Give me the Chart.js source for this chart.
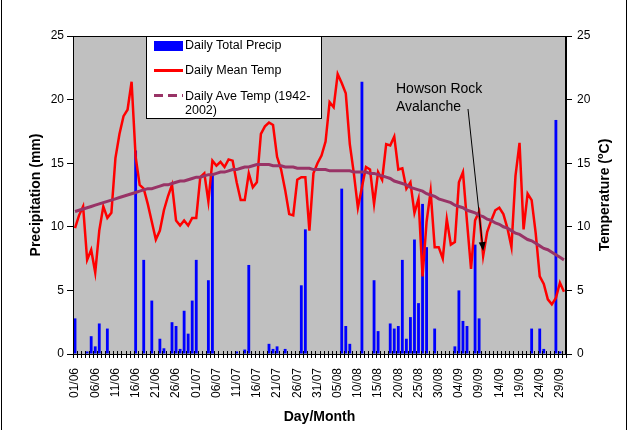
<!DOCTYPE html>
<html>
<head>
<meta charset="utf-8">
<script src="https://cdn.jsdelivr.net/npm/chart.js@4.4.0/dist/chart.umd.min.js"></script>
<style>
  body { margin: 0; background: #fff; }
  #wrap { position: relative; width: 628px; height: 430px; font-family: 'Liberation Sans', Arial, sans-serif; }
  #chart { position: absolute; left: 0; top: 0; }
  .edge { position: absolute; top: 0; width: 1px; height: 430px; background: #000; }
  #legend { position: absolute; left: 146px; top: 36px; width: 174px; height: 81px; background: #fff; border: 1px solid #000; }
  .row { position: absolute; left: 0; width: 174px; font-size: 12.5px; line-height: 14px; color: #000; }
  .row span.txt { position: absolute; left: 38px; width: 135px; }
  .sw { position: absolute; left: 7px; }
  #note { position: absolute; left: 396px; top: 79px; font-size: 14px; line-height: 18px; color: #000; }
</style>
</head>
<body>
<div id="wrap">
  <canvas id="chart" width="628" height="430"></canvas>
  <div class="edge" style="left:1px"></div>
  <div class="edge" style="left:626px"></div>
  <div id="legend"></div>
  <div id="note">Howson Rock<br>Avalanche</div>
</div>
<script>
// day/month categories 01/06 .. 30/09
var months = [["06", 30], ["07", 31], ["08", 31], ["09", 30]]
var days = []
months.forEach(function (m) {
  for (var d = 1; d <= m[1]; d++) days.push((d < 10 ? "0" + d : "" + d) + "/" + m[0])
})

var tickLabels = ["01/06", "06/06", "11/06", "16/06", "21/06", "26/06", "01/07", "06/07", "11/07",
  "16/07", "21/07", "26/07", "31/07", "05/08", "10/08", "15/08", "20/08", "25/08", "30/08",
  "04/09", "09/09", "14/09", "19/09", "24/09", "29/09"]

// daily total precipitation (mm)
var precip = [
  2.8, 0, 0, 0.2, 1.4, 0.6, 2.4, 0, 2.0, 0,
  0, 0, 0, 0, 0, 16.0, 0, 7.4, 0, 4.2,
  0, 1.2, 0.45, 0, 2.5, 2.2, 0.4, 3.4, 1.6, 4.2,
  7.4, 0, 0, 5.8, 14.2, 0, 0, 0, 0, 0,
  0.2, 0, 0.35, 7.0, 0, 0, 0, 0, 0.8, 0.4,
  0.6, 0, 0.4, 0, 0, 0, 5.4, 9.8, 0, 0,
  0, 0, 0, 0, 0, 0, 13.0, 2.2, 0.8, 0,
  0, 21.4, 0, 0, 5.8, 1.8, 0, 0, 2.4, 2.0,
  2.2, 7.4, 1.2, 2.9, 9.0, 4.0, 11.8, 8.4, 0, 2.0,
  0, 0, 0, 0, 0.6, 5.0, 2.6, 2.2, 0, 8.6,
  2.8, 0, 0, 0, 0, 0, 0, 0, 0, 0,
  0, 0, 0, 2.0, 0, 2.0, 0.4, 0, 0, 18.4,
  0.2, 0
]

// daily mean temperature (C)
var meanTemp = [
  9.9, 10.9, 11.6, 7.4, 8.2, 6.4, 9.7, 11.6, 10.7, 11.1,
  15.4, 17.3, 18.7, 19.2, 21.4, 15.5, 13.3, 13.0, 11.8, 10.4,
  9.0, 9.7, 11.3, 12.4, 13.3, 10.5, 10.1, 10.5, 10.1, 10.7,
  10.7, 13.9, 14.2, 12.0, 15.2, 14.8, 15.1, 14.7, 15.3, 15.2,
  13.5, 12.1, 12.1, 14.2, 13.1, 13.5, 17.3, 17.9, 18.2, 18.0,
  15.5, 14.5, 12.9, 11.0, 10.9, 13.7, 13.9, 13.9, 9.7, 14.2,
  15.0, 15.6, 16.7, 19.8, 19.4, 22.0, 21.3, 20.5, 16.5, 14.2,
  11.5, 13.1, 14.7, 14.5, 11.8, 14.3, 13.7, 16.5, 16.4, 17.1,
  14.5, 14.6, 13.0, 13.5, 11.1, 12.2, 6.1, 10.4, 12.8, 8.4,
  8.4, 7.5, 10.6, 8.6, 8.8, 13.5, 14.3, 10.4, 6.7, 10.5,
  11.2, 7.7, 9.6, 10.5, 11.3, 11.5, 11.0, 9.9, 8.4, 14.0,
  16.6, 9.8, 12.6, 12.1, 9.5, 6.1, 5.5, 4.3, 3.9, 4.4,
  5.6, 4.9
]

// daily average temperature 1942-2002 (C)
var aveTemp = [
  11.2, 11.3, 11.4, 11.5, 11.6, 11.7, 11.8, 11.9, 12.0, 12.1,
  12.2, 12.3, 12.4, 12.5, 12.6, 12.7, 12.8, 12.9, 13.0, 13.0,
  13.1, 13.2, 13.3, 13.3, 13.4, 13.5, 13.6, 13.6, 13.7, 13.8,
  13.9, 13.9, 14.0, 14.1, 14.1, 14.2, 14.3, 14.3, 14.4, 14.5,
  14.5, 14.6, 14.7, 14.7, 14.8, 14.9, 14.9, 14.9, 14.9, 14.8,
  14.8, 14.8, 14.7, 14.7, 14.7, 14.6, 14.6, 14.6, 14.6, 14.5,
  14.5, 14.5, 14.5, 14.4, 14.4, 14.4, 14.4, 14.4, 14.4, 14.3,
  14.3, 14.3, 14.3, 14.2, 14.2, 14.1, 14.0, 13.9, 13.8, 13.6,
  13.5, 13.4, 13.3, 13.1, 13.0, 12.9, 12.8, 12.6, 12.5, 12.4,
  12.2, 12.1, 12.0, 11.9, 11.7, 11.6, 11.5, 11.3, 11.2, 11.1,
  10.9, 10.8, 10.6, 10.5, 10.3, 10.2, 10.0, 9.9, 9.7, 9.5,
  9.4, 9.2, 9.0, 8.9, 8.7, 8.5, 8.3, 8.2, 8.0, 7.8,
  7.6, 7.4
]

var avalancheDay = "10/09"

Chart.defaults.font.family = "'Liberation Sans', Arial, sans-serif"
Chart.defaults.color = "#000"

// grey plot area, black frame and the little cross ticks on the x axis
var frame = {
  id: "frame",
  beforeDraw: function (chart) {
    var a = chart.chartArea, ctx = chart.ctx
    ctx.save()
    ctx.fillStyle = "#c0c0c0"
    ctx.fillRect(a.left, a.top, a.right - a.left, a.bottom - a.top)
    ctx.restore()
  },
  afterDraw: function (chart) {
    var a = chart.chartArea, ctx = chart.ctx
    ctx.save()
    ctx.strokeStyle = "#000"
    ctx.lineWidth = 1
    ctx.strokeRect(a.left + 0.5, a.top + 0.5, a.right - a.left - 1, a.bottom - a.top)
    var w = (a.right - a.left) / days.length
    ctx.beginPath()
    for (var k = 0; k <= days.length; k++) {
      var x = Math.round(a.left + k * w) + 0.5
      ctx.moveTo(x, a.bottom - 3)
      ctx.lineTo(x, a.bottom + 4)
    }
    ctx.stroke()

    // arrow to the avalanche day
    var xs = chart.scales.x, ys = chart.scales.y1
    var i = days.indexOf(avalancheDay)
    var tx = xs.getPixelForValue(i), ty = ys.getPixelForValue(meanTemp[i]) - 5
    var sx = 468, sy = 109
    var ang = Math.atan2(ty - sy, tx - sx)
    ctx.beginPath()
    ctx.moveTo(sx, sy)
    ctx.lineTo(tx - 7 * Math.cos(ang), ty - 7 * Math.sin(ang))
    ctx.stroke()
    ctx.fillStyle = "#000"
    ctx.beginPath()
    ctx.moveTo(tx, ty)
    ctx.lineTo(tx - 9 * Math.cos(ang) + 3.5 * Math.sin(ang), ty - 9 * Math.sin(ang) - 3.5 * Math.cos(ang))
    ctx.lineTo(tx - 9 * Math.cos(ang) - 3.5 * Math.sin(ang), ty - 9 * Math.sin(ang) + 3.5 * Math.cos(ang))
    ctx.closePath()
    ctx.fill()

    // axis titles
    ctx.font = "bold 14px 'Liberation Sans', Arial, sans-serif"
    ctx.textAlign = "center"
    ctx.textBaseline = "middle"
    ctx.fillText("Day/Month", (a.left + a.right) / 2, 417)
    ctx.save()
    ctx.translate(36, (a.top + a.bottom) / 2)
    ctx.rotate(-Math.PI / 2)
    ctx.fillText("Precipitation (mm)", 0, 0)
    ctx.restore()

    ctx.save()
    ctx.translate(605, (a.top + a.bottom) / 2)
    ctx.rotate(-Math.PI / 2)
    ctx.textAlign = "left"
    var p1 = "Temperature (", p2 = "o", p3 = "C)"
    var big = "bold 14px 'Liberation Sans', Arial, sans-serif"
    var small = "bold 9px 'Liberation Sans', Arial, sans-serif"
    ctx.font = big
    var w1 = ctx.measureText(p1).width, w3 = ctx.measureText(p3).width
    ctx.font = small
    var w2 = ctx.measureText(p2).width
    var x0 = -(w1 + w2 + w3) / 2
    ctx.font = big
    ctx.fillText(p1, x0, 0)
    ctx.font = small
    ctx.fillText(p2, x0 + w1, -4)
    ctx.font = big
    ctx.fillText(p3, x0 + w1 + w2, 0)
    ctx.restore()
    ctx.restore()
  }
}

var chart = new Chart("chart", {
  type: "bar",
  data: {
    labels: days,
    datasets: [{
      type: "line",
      label: "Daily Ave Temp (1942-2002)",
      data: aveTemp,
      yAxisID: "y1",
      borderColor: "#993366",
      borderWidth: 3,
      pointRadius: 0,
      tension: 0,
      order: 1
    }, {
      type: "line",
      label: "Daily Mean Temp",
      data: meanTemp,
      yAxisID: "y1",
      borderColor: "#ff0000",
      borderWidth: 2.5,
      pointRadius: 0,
      tension: 0,
      order: 2
    }, {
      label: "Daily Total Precip",
      data: precip,
      yAxisID: "y",
      backgroundColor: "#0000ff",
      barPercentage: 0.7,
      categoryPercentage: 1,
      order: 3
    }]
  },
  options: {
    responsive: false,
    animation: false,
    layout: { padding: { top: 36, left: 0, right: 0, bottom: 0 } },
    plugins: { legend: { display: false }, tooltip: { enabled: false } },
    scales: {
      x: {
        grid: { display: false },
        border: { display: true, color: "#000" },
        ticks: {
          autoSkip: false, minRotation: 90, maxRotation: 90, padding: 6,
          font: { size: 12 },
          callback: function (v, i) { return tickLabels.indexOf(days[i]) >= 0 ? days[i] : "" }
        },
        afterFit: function (s) { s.height = 76 }
      },
      y: {
        position: "left", min: 0, max: 25,
        ticks: { stepSize: 5, padding: 3, font: { size: 12 } },
        grid: { drawOnChartArea: false, tickLength: 6, color: "#000" },
        border: { color: "#000" },
        afterFit: function (s) { s.width = 73 }
      },
      y1: {
        position: "right", min: 0, max: 25,
        ticks: { stepSize: 5, padding: 5, font: { size: 12 } },
        grid: { drawOnChartArea: false, tickLength: 6, color: "#000" },
        border: { color: "#000" },
        afterFit: function (s) { s.width = 62 }
      }
    }
  },
  plugins: [frame]
})

// legend box, same order as the original: [dataset, row top]
var legendRows = [[2, 1], [1, 26], [0, 52]]
var box = document.getElementById("legend")
legendRows.forEach(function (r) {
  var ds = chart.data.datasets[r[0]]
  var row = document.createElement("div")
  row.className = "row"
  row.style.top = r[1] + "px"
  var sw = document.createElement("div")
  sw.className = "sw"
  if (ds.type === "line" && r[0] === 0) {
    sw.style.top = "5px"; sw.style.width = "29px"; sw.style.height = "3px"
    sw.style.background = "repeating-linear-gradient(90deg," + ds.borderColor + " 0 9px, transparent 9px 14px)"
  } else if (ds.type === "line") {
    sw.style.top = "5.5px"; sw.style.width = "29px"; sw.style.height = "3px"
    sw.style.background = ds.borderColor
  } else {
    sw.style.top = "3px"; sw.style.width = "29px"; sw.style.height = "10px"
    sw.style.background = ds.backgroundColor
  }
  var t = document.createElement("span")
  t.className = "txt"
  t.textContent = ds.label
  row.appendChild(sw)
  row.appendChild(t)
  box.appendChild(row)
})
</script>
</body>
</html>
